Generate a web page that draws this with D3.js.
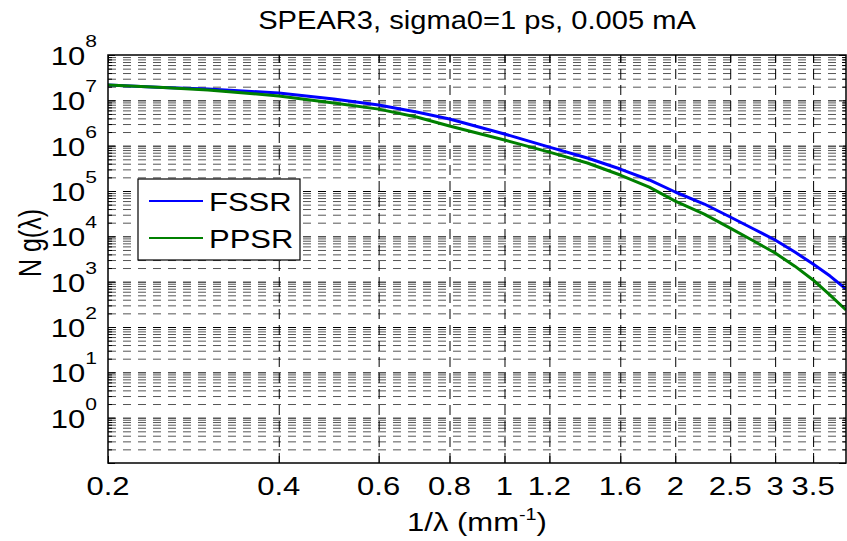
<!DOCTYPE html>
<html>
<head>
<meta charset="utf-8">
<script src="https://cdn.jsdelivr.net/npm/d3@7"></script>
<style>
  html, body { margin: 0; padding: 0; background: #fff; }
  text { font-family: "Liberation Sans", Arial, Helvetica, sans-serif; fill: #000; }
</style>
</head>
<body>
<svg id="chart" width="847" height="541"></svg>
<script>
// ---- data ----
const xValues = [0.2, 0.25, 0.3, 0.4, 0.5, 0.6, 0.7, 0.8, 1.0, 1.2, 1.4, 1.6, 1.8, 2.0, 2.25, 2.5, 2.75, 3.0, 3.25, 3.5, 3.75, 4.0];
const fssrValues = [2.18e7, 1.92e7, 1.78e7, 1.45e7, 1.07e7, 7.9e6, 5.53e6, 3.87e6, 1.81e6, 9.3e5, 5.35e5, 3.05e5, 1.75e5, 9.5e4, 5.16e4, 2.67e4, 1.45e4, 8.3e3, 4.5e3, 2.45e3, 1.33e3, 689];
const ppsrValues = [2.18e7, 1.92e7, 1.69e7, 1.25e7, 8.7e6, 6.4e6, 4.3e6, 2.72e6, 1.33e6, 7.2e5, 4.14e5, 2.25e5, 1.22e5, 6.0e4, 3.1e4, 1.52e4, 7.9e3, 4.3e3, 2.2e3, 1.09e3, 507, 237];
const seriesNames = ["FSSR", "PPSR"];
const seriesColors = ["#0000ff", "#008000"];
const xTicks = [0.2, 0.4, 0.6, 0.8, 1, 1.2, 1.6, 2, 2.5, 3, 3.5];
const xTickLabels = ["0.2", "0.4", "0.6", "0.8", "1", "1.2", "1.6", "2", "2.5", "3", "3.5"];
const yExponents = [0, 1, 2, 3, 4, 5, 6, 7, 8];
const titleText = "SPEAR3, sigma0=1 ps, 0.005 mA";

// ---- layout ----
const svg = d3.select("#chart");
const L = 108, R = 846, T = 55, B = 463;
const SX = 1.24; // horizontal text stretch seen in the reference
const x = d3.scaleLog().domain([0.2, 4]).range([L, R]);
const y = d3.scaleLog().domain([0.1, 1e8]).range([B, T]);
const W = R - L, H = B - T;

svg.append("rect").attr("width", 847).attr("height", 541).attr("fill", "#fff");

// minor y values
const yMinor = [];
for (let k = -1; k <= 7; k++) for (let m = 2; m <= 9; m++) yMinor.push(m * Math.pow(10, k));
const yMajor = d3.range(-1, 9).map(k => Math.pow(10, k));

// ---- grid ----
const gMinor = svg.append("g").attr("transform", `translate(${L},0)`)
  .call(d3.axisLeft(y).tickValues(yMinor).tickSize(-W).tickFormat(""));
gMinor.select(".domain").remove();
gMinor.selectAll("line").attr("stroke", "#555").attr("stroke-width", 1).attr("stroke-dasharray", "8,7");

const gMajorY = svg.append("g").attr("transform", `translate(${L},0)`)
  .call(d3.axisLeft(y).tickValues(yMajor.filter(v => v > 0.1 && v < 1e8)).tickSize(-W).tickFormat(""));
gMajorY.select(".domain").remove();
gMajorY.selectAll("line").attr("stroke", "#000").attr("stroke-width", 1).attr("stroke-dasharray", "8,7");

const gGridX = svg.append("g").attr("transform", `translate(0,${B})`)
  .call(d3.axisBottom(x).tickValues(xTicks.slice(1)).tickSize(-H).tickFormat(""));
gGridX.select(".domain").remove();
gGridX.selectAll("line").attr("stroke", "#000").attr("stroke-width", 1).attr("stroke-dasharray", "10,6");

// ---- curves ----
const line = d3.line().x((d, i) => x(xValues[i])).y(d => y(d));
svg.append("clipPath").attr("id", "clip").append("rect")
  .attr("x", L).attr("y", T).attr("width", W).attr("height", H);
[fssrValues, ppsrValues].forEach((vals, i) => {
  svg.append("path").datum(vals)
    .attr("d", line)
    .attr("fill", "none")
    .attr("stroke", seriesColors[i])
    .attr("stroke-width", 3)
    .attr("stroke-linejoin", "round")
    .attr("clip-path", "url(#clip)");
});

// ---- axes ticks (inside) ----
function styleAxis(g) {
  g.selectAll("line").attr("stroke", "#000").attr("stroke-width", 1);
  g.select(".domain").remove();
  g.selectAll("text").remove();
}
svg.append("g").attr("transform", `translate(0,${B})`)
  .call(d3.axisBottom(x).tickValues(xTicks).tickSize(-7)).call(styleAxis);
svg.append("g").attr("transform", `translate(0,${T})`)
  .call(d3.axisTop(x).tickValues(xTicks).tickSize(-7)).call(styleAxis);
svg.append("g").attr("transform", `translate(${L},0)`)
  .call(d3.axisLeft(y).tickValues(yMajor).tickSize(-7)).call(styleAxis);
svg.append("g").attr("transform", `translate(${L},0)`)
  .call(d3.axisLeft(y).tickValues(yMinor).tickSize(-4)).call(styleAxis);
svg.append("g").attr("transform", `translate(${R},0)`)
  .call(d3.axisRight(y).tickValues(yMajor).tickSize(-7)).call(styleAxis);
svg.append("g").attr("transform", `translate(${R},0)`)
  .call(d3.axisRight(y).tickValues(yMinor).tickSize(-4)).call(styleAxis);

// box
svg.append("rect").attr("x", L).attr("y", T).attr("width", W).attr("height", H)
  .attr("fill", "none").attr("stroke", "#000").attr("stroke-width", 1.5);

// ---- tick labels ----
const FS = 25;
xTicks.forEach((v, i) => {
  svg.append("text")
    .attr("transform", `translate(${x(v)},495) scale(${SX},1)`)
    .attr("text-anchor", "middle")
    .attr("font-size", FS)
    .text(xTickLabels[i]);
});
yExponents.forEach(e => {
  const t = svg.append("text")
    .attr("transform", `translate(97,${y(Math.pow(10, e)) + 10}) scale(${SX},1)`)
    .attr("text-anchor", "end")
    .attr("font-size", FS);
  t.append("tspan").text("10");
  t.append("tspan").attr("font-size", 17).attr("dy", -18).text(String(e));
});

// ---- title & axis labels ----
svg.append("text")
  .attr("transform", `translate(${(L + R) / 2},29) scale(1.12,1)`)
  .attr("text-anchor", "middle").attr("font-size", 26)
  .text(titleText);

const xl = svg.append("text")
  .attr("transform", `translate(${(L + R) / 2},531) scale(${SX},1)`)
  .attr("text-anchor", "middle").attr("font-size", FS);
xl.append("tspan").text("1/\u03bb (mm");
xl.append("tspan").attr("font-size", 16).attr("dy", -11).text("-1");
xl.append("tspan").attr("dy", 11).text(")");

svg.append("text")
  .attr("transform", `translate(41,243) rotate(-90) scale(1,${SX})`)
  .attr("text-anchor", "middle").attr("font-size", FS)
  .text("N g(\u03bb)");

// ---- legend ----
const lg = svg.append("g");
lg.append("rect").attr("x", 138).attr("y", 179).attr("width", 162).attr("height", 81)
  .attr("fill", "#fff").attr("stroke", "#000").attr("stroke-width", 1.2);
seriesNames.forEach((name, i) => {
  const ly = 201 + i * 37;
  lg.append("line").attr("x1", 149).attr("x2", 203).attr("y1", ly).attr("y2", ly)
    .attr("stroke", seriesColors[i]).attr("stroke-width", 2);
  lg.append("text")
    .attr("transform", `translate(209,${ly + 10}) scale(${SX},1)`)
    .attr("font-size", FS).text(name);
});
</script>
</body>
</html>
